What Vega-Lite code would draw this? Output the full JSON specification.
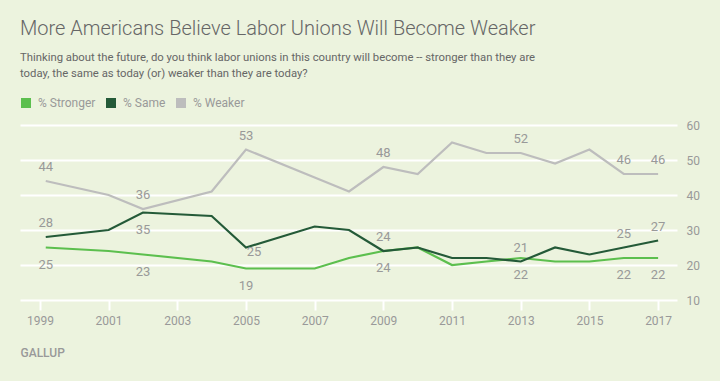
{
  "$schema": "https://vega.github.io/schema/vega-lite/v6.json",
  "width": 657,
  "height": 175,
  "autosize": "none",
  "padding": {"left": 20, "top": 125, "right": 43, "bottom": 81},
  "background": "#ECF3DE",
  "config": {"view": {"stroke": null}, "font": "Roboto"},
  "title": {
    "text": "More Americans Believe Labor Unions Will Become Weaker",
    "subtitle": ["Thinking about the future, do you think labor unions in this country will become -- stronger than they are", "today, the same as today (or) weaker than they are today?"],
    "anchor": "start",
    "frame": "group",
    "fontSize": 20,
    "fontWeight": 300,
    "color": "#666666",
    "subtitleFontSize": 11.3,
    "subtitleColor": "#666666",
    "subtitleLineHeight": 16,
    "subtitlePadding": 13,
    "offset": 18
  },
  "data": {
    "values": [
      {"year": 1999.17, "series": "% Stronger", "value": 25, "pos": "below"},
      {"year": 2001, "series": "% Stronger", "value": 24, "pos": ""},
      {"year": 2002, "series": "% Stronger", "value": 23, "pos": "below"},
      {"year": 2004, "series": "% Stronger", "value": 21, "pos": ""},
      {"year": 2005, "series": "% Stronger", "value": 19, "pos": "below"},
      {"year": 2007, "series": "% Stronger", "value": 19, "pos": ""},
      {"year": 2008, "series": "% Stronger", "value": 22, "pos": ""},
      {"year": 2009, "series": "% Stronger", "value": 24, "pos": "below"},
      {"year": 2010, "series": "% Stronger", "value": 25, "pos": ""},
      {"year": 2011, "series": "% Stronger", "value": 20, "pos": ""},
      {"year": 2012, "series": "% Stronger", "value": 21, "pos": ""},
      {"year": 2013, "series": "% Stronger", "value": 22, "pos": "below"},
      {"year": 2014, "series": "% Stronger", "value": 21, "pos": ""},
      {"year": 2015, "series": "% Stronger", "value": 21, "pos": ""},
      {"year": 2016, "series": "% Stronger", "value": 22, "pos": "below"},
      {"year": 2017, "series": "% Stronger", "value": 22, "pos": "below"},
      {"year": 1999.17, "series": "% Same", "value": 28, "pos": "above"},
      {"year": 2001, "series": "% Same", "value": 30, "pos": ""},
      {"year": 2002, "series": "% Same", "value": 35, "pos": "below"},
      {"year": 2004, "series": "% Same", "value": 34, "pos": ""},
      {"year": 2005, "series": "% Same", "value": 25, "pos": "side"},
      {"year": 2007, "series": "% Same", "value": 31, "pos": ""},
      {"year": 2008, "series": "% Same", "value": 30, "pos": ""},
      {"year": 2009, "series": "% Same", "value": 24, "pos": "above"},
      {"year": 2010, "series": "% Same", "value": 25, "pos": ""},
      {"year": 2011, "series": "% Same", "value": 22, "pos": ""},
      {"year": 2012, "series": "% Same", "value": 22, "pos": ""},
      {"year": 2013, "series": "% Same", "value": 21, "pos": "above"},
      {"year": 2014, "series": "% Same", "value": 25, "pos": ""},
      {"year": 2015, "series": "% Same", "value": 23, "pos": ""},
      {"year": 2016, "series": "% Same", "value": 25, "pos": "above"},
      {"year": 2017, "series": "% Same", "value": 27, "pos": "above"},
      {"year": 1999.17, "series": "% Weaker", "value": 44, "pos": "above"},
      {"year": 2001, "series": "% Weaker", "value": 40, "pos": ""},
      {"year": 2002, "series": "% Weaker", "value": 36, "pos": "above"},
      {"year": 2004, "series": "% Weaker", "value": 41, "pos": ""},
      {"year": 2005, "series": "% Weaker", "value": 53, "pos": "above"},
      {"year": 2007, "series": "% Weaker", "value": 45, "pos": ""},
      {"year": 2008, "series": "% Weaker", "value": 41, "pos": ""},
      {"year": 2009, "series": "% Weaker", "value": 48, "pos": "above"},
      {"year": 2010, "series": "% Weaker", "value": 46, "pos": ""},
      {"year": 2011, "series": "% Weaker", "value": 55, "pos": ""},
      {"year": 2012, "series": "% Weaker", "value": 52, "pos": ""},
      {"year": 2013, "series": "% Weaker", "value": 52, "pos": "above"},
      {"year": 2014, "series": "% Weaker", "value": 49, "pos": ""},
      {"year": 2015, "series": "% Weaker", "value": 53, "pos": ""},
      {"year": 2016, "series": "% Weaker", "value": 46, "pos": "above"},
      {"year": 2017, "series": "% Weaker", "value": 46, "pos": "above"}
    ]
  },
  "encoding": {
    "x": {
      "field": "year",
      "type": "quantitative",
      "scale": {"domain": [1998.42, 2017.55], "nice": false, "zero": false},
      "axis": {
        "values": [1999, 2001, 2003, 2005, 2007, 2009, 2011, 2013, 2015, 2017],
        "format": "d",
        "grid": false,
        "domain": false,
        "tickColor": "#ffffff",
        "tickSize": 10,
        "tickWidth": 2,
        "labelColor": "#999999",
        "labelFontSize": 12,
        "labelPadding": 5,
        "title": "GALLUP",
        "titleAnchor": "start",
        "titleAlign": "left",
        "titleColor": "#999999",
        "titleFontSize": 12,
        "titleFontWeight": 500,
        "titlePadding": 21
      }
    },
    "y": {
      "field": "value",
      "type": "quantitative",
      "scale": {"domain": [10, 60], "nice": false},
      "axis": {
        "orient": "right",
        "values": [10, 20, 30, 40, 50, 60],
        "gridColor": "#ffffff",
        "gridWidth": 2,
        "gridOpacity": 1,
        "domain": false,
        "ticks": false,
        "labelPadding": 9,
        "labelColor": "#999999",
        "labelFontSize": 12,
        "title": null
      }
    }
  },
  "layer": [
    {
      "mark": {"type": "line", "strokeWidth": 2.2},
      "encoding": {
        "color": {
          "field": "series",
          "type": "nominal",
          "scale": {"domain": ["% Stronger", "% Same", "% Weaker"], "range": ["#5CBF4E", "#245A38", "#BDBDBD"]},
          "legend": {
            "orient": "none",
            "legendX": 0,
            "legendY": -28,
            "direction": "horizontal",
            "title": null,
            "symbolType": "square",
            "symbolSize": 100,
            "symbolStrokeWidth": 0,
            "symbolOpacity": 1,
            "labelFontSize": 12,
            "labelColor": "#999999",
            "columnPadding": 9,
            "labelOffset": 6,
            "encode": {
              "symbols": {"update": {"fill": {"scale": "color", "field": "value"}, "opacity": {"value": 1}}}
            }
          }
        }
      }
    },
    {
      "transform": [{"filter": "datum.pos == 'above'"}],
      "mark": {"type": "text", "dy": -14, "fontSize": 13, "color": "#999999", "baseline": "middle"},
      "encoding": {"text": {"field": "value", "type": "quantitative"}}
    },
    {
      "transform": [{"filter": "datum.pos == 'below'"}],
      "mark": {"type": "text", "dy": 17, "fontSize": 13, "color": "#999999", "baseline": "middle"},
      "encoding": {"text": {"field": "value", "type": "quantitative"}}
    },
    {
      "transform": [{"filter": "datum.pos == 'side'"}],
      "mark": {"type": "text", "dx": 8, "dy": 4, "fontSize": 13, "color": "#999999", "baseline": "middle"},
      "encoding": {"text": {"field": "value", "type": "quantitative"}}
    }
  ]
}
